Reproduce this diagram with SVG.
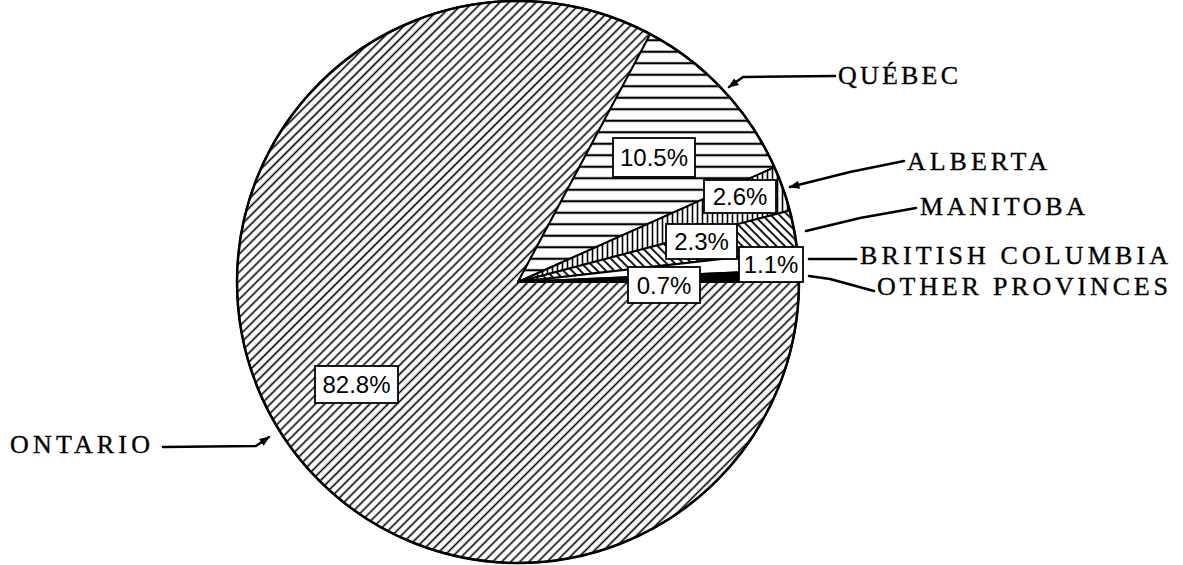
<svg xmlns="http://www.w3.org/2000/svg" width="1183" height="565" viewBox="0 0 1183 565">
<style>
.slice{stroke:#000;stroke-width:2;stroke-linejoin:round}
.box{fill:#fff;stroke:#000;stroke-width:1.8}
.pct{font-family:"Liberation Sans",Arial,sans-serif;font-size:24px;fill:#000;text-anchor:middle}
.lbl{font-family:"Liberation Serif","Times New Roman",serif;font-size:26px;fill:#000;stroke:#000;stroke-width:0.35}
.con{fill:none;stroke:#000;stroke-width:2.6;stroke-linecap:round;stroke-linejoin:round}
</style>
<defs>
<pattern id="hOnt" patternUnits="userSpaceOnUse" width="6.4" height="10" patternTransform="rotate(45)">
<rect width="6.4" height="10" fill="#fff"/>
<line x1="3.2" y1="0" x2="3.2" y2="10" stroke="#000" stroke-width="1.6"/>
</pattern>
<pattern id="hQue" patternUnits="userSpaceOnUse" width="10" height="11.5">
<rect width="10" height="11.5" fill="#fff"/>
<line x1="0" y1="5.75" x2="10" y2="5.75" stroke="#000" stroke-width="2.2"/>
</pattern>
<pattern id="hAlb" patternUnits="userSpaceOnUse" width="5" height="10">
<rect width="5" height="10" fill="#fff"/>
<line x1="2.5" y1="0" x2="2.5" y2="10" stroke="#000" stroke-width="1.6"/>
</pattern>
<pattern id="hMan" patternUnits="userSpaceOnUse" width="6" height="10" patternTransform="rotate(-45)">
<rect width="6" height="10" fill="#fff"/>
<line x1="3" y1="0" x2="3" y2="10" stroke="#000" stroke-width="1.8"/>
</pattern>
<marker id="arr" viewBox="0 0 10 10" refX="9" refY="5" markerWidth="4" markerHeight="4" orient="auto" markerUnits="strokeWidth">
<path d="M0,1 L10,5 L0,9 Z" fill="#000"/>
</marker>
</defs>
<rect width="1183" height="565" fill="#fff"/>
<g id="ontario">
<path class="slice" fill="url(#hOnt)" d="M518,282 L799,282 A281,281 0 1 1 650.3,34.1 Z"/>
<rect class="box" x="315" y="366" width="83" height="37"/>
<text class="pct" x="356.5" y="393">82.8%</text>
</g>
<g id="quebec">
<path class="slice" fill="url(#hQue)" d="M518,282 L650.3,34.1 A281,281 0 0 1 774.5,167.3 Z"/>
<rect class="box" x="613" y="138" width="82" height="39"/>
<text class="pct" x="654" y="166">10.5%</text>
</g>
<g id="alberta">
<path class="slice" fill="url(#hAlb)" d="M518,282 L774.5,167.3 A281,281 0 0 1 789.8,210.5 Z"/>
</g>
<g id="manitoba">
<path class="slice" fill="url(#hMan)" d="M518,282 L789.8,210.5 A281,281 0 0 1 797.2,250.4 Z"/>
</g>
<g id="british-columbia">
<path class="slice" fill="#fff" d="M518,282 L797.2,250.4 A281,281 0 0 1 798.7,269.7 Z"/>
</g>
<g id="other-provinces">
<path class="slice" fill="#000" d="M518,282 L798.7,269.7 A281,281 0 0 1 799,282 Z"/>
</g>
<circle cx="518" cy="282" r="281" fill="none" stroke="#000" stroke-width="2.5"/>
<g id="pct-labels">
<rect class="box" x="704" y="180" width="72" height="33"/>
<text class="pct" x="740" y="205">2.6%</text>
<rect class="box" x="666" y="224" width="71" height="35"/>
<text class="pct" x="701.5" y="250">2.3%</text>
<rect class="box" x="739" y="247" width="64" height="35"/>
<text class="pct" x="771" y="273">1.1%</text>
<rect class="box" x="628" y="267" width="72" height="36"/>
<text class="pct" x="664" y="294">0.7%</text>
</g>
<g id="connectors">
<polyline class="con" points="835,76 743,77 729,87" marker-end="url(#arr)"/>
<polyline class="con" points="904,161 850,172 790,187" marker-end="url(#arr)"/>
<polyline class="con" points="916,208 860,218 806,231"/>
<line class="con" x1="809" y1="259" x2="856" y2="259"/>
<polyline class="con" points="809,276 830,279 874,291"/>
<polyline class="con" points="163,447 256,446 269,437" marker-end="url(#arr)"/>
</g>
<g id="labels">
<text class="lbl" x="838" y="84" textLength="120" lengthAdjust="spacing">QUÉBEC</text>
<text class="lbl" x="907" y="170" textLength="140" lengthAdjust="spacing">ALBERTA</text>
<text class="lbl" x="920" y="215" textLength="165" lengthAdjust="spacing">MANITOBA</text>
<text class="lbl" x="860" y="264" textLength="308" lengthAdjust="spacing">BRITISH COLUMBIA</text>
<text class="lbl" x="877" y="295" textLength="291" lengthAdjust="spacing">OTHER PROVINCES</text>
<text class="lbl" x="10" y="453" textLength="140" lengthAdjust="spacing">ONTARIO</text>
</g>
</svg>
